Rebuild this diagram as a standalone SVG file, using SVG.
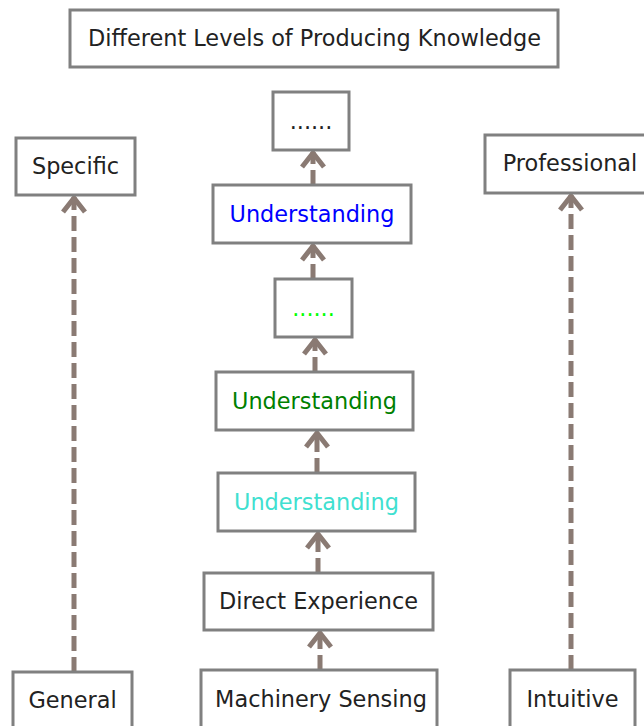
<svg xmlns="http://www.w3.org/2000/svg" width="644" height="726" viewBox="0 0 644 726">
  <style>
    .box { fill: #ffffff; stroke: #808080; stroke-width: 3; }
    .lbl { font-family: "DejaVu Sans", "Liberation Sans", sans-serif; font-size: 22.4px; fill: #222222; text-anchor: middle; }
    .edge { fill: none; stroke: #8a7a73; stroke-width: 5; stroke-dasharray: 15 6; }
  </style>
  <defs>
    <marker id="chev" markerUnits="userSpaceOnUse" viewBox="-20 -14 26 28" refX="0" refY="0" markerWidth="26" markerHeight="28" orient="auto" overflow="visible">
      <path d="M -15 -11 L -1 0 L -15 11" fill="none" stroke="#8a7a73" stroke-width="5" stroke-linejoin="miter" stroke-miterlimit="10"/>
    </marker>
  </defs>
  <rect width="644" height="726" fill="#ffffff"/>

  <!-- connectors -->
  <g id="edges">
    <line class="edge" x1="74" y1="672" x2="74" y2="197" marker-end="url(#chev)"/>
    <line class="edge" x1="571" y1="670" x2="571" y2="195" marker-end="url(#chev)"/>
    <line class="edge" x1="320" y1="670" x2="320" y2="632" marker-end="url(#chev)"/>
    <line class="edge" x1="318" y1="573" x2="318" y2="533" marker-end="url(#chev)"/>
    <line class="edge" x1="317" y1="473" x2="317" y2="432" marker-end="url(#chev)"/>
    <line class="edge" x1="315" y1="372" x2="315" y2="339" marker-end="url(#chev)"/>
    <line class="edge" x1="313" y1="279" x2="313" y2="245" marker-end="url(#chev)"/>
    <line class="edge" x1="313" y1="185" x2="313" y2="152" marker-end="url(#chev)"/>
  </g>

  <!-- nodes -->
  <g id="title">
    <rect class="box" x="70" y="10" width="488" height="57"/>
    <text class="lbl" x="314.5" y="46">Different Levels of Producing Knowledge</text>
  </g>
  <g id="top-more">
    <rect class="box" x="273" y="92" width="76" height="58"/>
    <text class="lbl" x="311" y="129">......</text>
  </g>
  <g id="understanding-blue">
    <rect class="box" x="213" y="185" width="198" height="58"/>
    <text class="lbl" x="312" y="222" style="fill:#0000ff">Understanding</text>
  </g>
  <g id="mid-more">
    <rect class="box" x="275" y="279" width="77" height="58"/>
    <text class="lbl" x="313.5" y="316" style="fill:#00ff00">......</text>
  </g>
  <g id="understanding-green">
    <rect class="box" x="216" y="372" width="197" height="58"/>
    <text class="lbl" x="314.5" y="409" style="fill:#008000">Understanding</text>
  </g>
  <g id="understanding-cyan">
    <rect class="box" x="218" y="473" width="197" height="58"/>
    <text class="lbl" x="316.5" y="510" style="fill:#40e0d0">Understanding</text>
  </g>
  <g id="direct-experience">
    <rect class="box" x="204" y="573" width="229" height="57"/>
    <text class="lbl" x="318.5" y="609">Direct Experience</text>
  </g>
  <g id="machinery-sensing">
    <rect class="box" x="201" y="670" width="236" height="58"/>
    <text class="lbl" x="321" y="707">Machinery Sensing</text>
  </g>
  <g id="specific">
    <rect class="box" x="16" y="138" width="119" height="57"/>
    <text class="lbl" x="75.5" y="174">Specific</text>
  </g>
  <g id="general">
    <rect class="box" x="13" y="672" width="119" height="58"/>
    <text class="lbl" x="72.5" y="708">General</text>
  </g>
  <g id="professional">
    <rect class="box" x="485" y="135" width="172" height="58"/>
    <text class="lbl" x="570" y="171">Professional</text>
  </g>
  <g id="intuitive">
    <rect class="box" x="510" y="670" width="125" height="58"/>
    <text class="lbl" x="572.5" y="707">Intuitive</text>
  </g>
</svg>
